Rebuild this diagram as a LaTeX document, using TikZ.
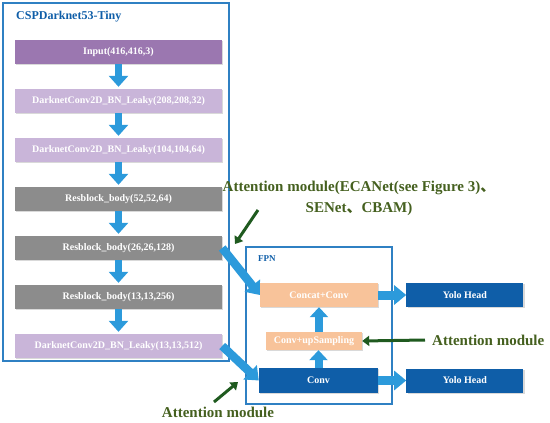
\documentclass[tikz,border=0pt]{standalone}
\usepackage{fontspec}
\setmainfont{Liberation Serif}
\newfontfamily\cjk{Noto Sans CJK SC}
\usepackage{xcolor}
\usepackage{tikz}
\usetikzlibrary{positioning,arrows.meta,shadows}
\definecolor{frameblue}{HTML}{2F80C3}
\definecolor{flow}{HTML}{2C9ADB}
\definecolor{deep}{HTML}{0F5EA8}
\definecolor{inpurple}{HTML}{9B77B0}
\definecolor{lilac}{HTML}{C9B5D9}
\definecolor{resgray}{HTML}{8C8C8C}
\definecolor{peach}{HTML}{F8C39A}
\definecolor{attn}{HTML}{1F5A1F}
\definecolor{attntext}{HTML}{45601F}

\begin{document}
\begin{tikzpicture}[
    x=1pt, y=1pt,
    node distance=24.6pt,
    layer/.style={minimum width=207pt, minimum height=24pt, inner sep=1pt, text=white, font=\fontsize{10}{12}\selectfont\bfseries, drop shadow={shadow xshift=1.2pt, shadow yshift=-1.2pt, opacity=0.3}},
    fpnbox/.style={layer, minimum width=118pt},
    frame/.style={draw=frameblue, line width=1.4pt},
    down/.style={line width=7pt, draw=flow, -{Triangle[length=11pt,width=19pt]}, shorten >=2pt},
    side/.style={line width=9pt, draw=flow, -{Triangle[length=12pt,width=19pt]}},
    garr/.style={line width=3pt, draw=attn, -{Triangle[length=7pt,width=10pt]}},
    attlabel/.style={text=attntext, font=\fontsize{15}{21}\selectfont\bfseries, align=center, inner sep=0pt}
]
    \useasboundingbox (0,0) rectangle (550,-423);

    % Backbone
    \draw[frame] (3,-3) rectangle (229,-361);
    \node[anchor=west, text=deep, font=\fontsize{12}{14}\selectfont\bfseries, inner sep=0pt] (bbtitle) at (16,-17) {CSPDarknet53-Tiny};
    \node[layer, fill=inpurple] (in) at (118.5,-52) {Input(416,416,3)};
    \node[layer, fill=lilac, below=of in] (dc208) {DarknetConv2D\_BN\_Leaky(208,208,32)};
    \node[layer, fill=lilac, below=of dc208] (dc104) {DarknetConv2D\_BN\_Leaky(104,104,64)};
    \node[layer, fill=resgray, below=of dc104] (rb52) {Resblock\_body(52,52,64)};
    \node[layer, fill=resgray, below=of rb52] (rb26) {Resblock\_body(26,26,128)};
    \node[layer, fill=resgray, below=of rb26] (rb13) {Resblock\_body(13,13,256)};
    \node[layer, fill=lilac, below=of rb13] (dc13) {DarknetConv2D\_BN\_Leaky(13,13,512)};

    \draw[down] (in) -- (dc208);
    \draw[down] (dc208) -- (dc104);
    \draw[down] (dc104) -- (rb52);
    \draw[down] (rb52) -- (rb26);
    \draw[down] (rb26) -- (rb13);
    \draw[down] (rb13) -- (dc13);

    % FPN
    \draw[frame, line width=1.2pt] (246,-247) rectangle (392,-404);
    \node[anchor=west, text=deep, font=\fontsize{9}{11}\selectfont\bfseries, inner sep=0pt] (fpntitle) at (258,-259) {FPN};
    \node[fpnbox, fill=peach] (concat) at (319,-295) {Concat+Conv};
    \node[fpnbox, fill=peach, minimum width=96pt, minimum height=18pt] (upsamp) at (314,-341) {Conv+upSampling};
    \node[fpnbox, fill=deep, minimum width=119pt, minimum height=25pt] (conv) at (318.5,-380.5) {Conv};
    \node[fpnbox, fill=deep, minimum width=117pt, right=28pt of concat] (yolo1) {Yolo Head};
    \node[fpnbox, fill=deep, minimum width=117pt, right=28pt of conv] (yolo2) {Yolo Head};

    \draw[down, shorten >=0pt, line width=8pt, -{Triangle[length=10pt,width=18pt]}] (conv) -- (conv |- upsamp.south);
    \draw[down, shorten >=0pt, line width=8pt, -{Triangle[length=10pt,width=18pt]}] (upsamp.north -| concat) -- (concat);
    \draw[side] (concat) -- (yolo1);
    \draw[side] (conv) -- (yolo2);

    % Backbone to FPN
    \draw[side, line width=8.5pt, -{Triangle[length=12pt,width=19pt]}] (rb26.east) -- (concat.west);
    \draw[side, line width=8.5pt, -{Triangle[length=12pt,width=19pt]}] (dc13.east) -- (conv.west);

    % Attention modules
    \node[attlabel] (atttop) at (359,-198.5) {Attention module(ECANet(see Figure 3){\cjk 、}\\SENet{\cjk 、}CBAM)};
    \node[attlabel, anchor=west] (attright) at (432,-340) {Attention module};
    \node[attlabel] (attbottom) at (218,-412) {Attention module};
    \coordinate (g1a) at (258,-210);
    \coordinate (g1b) at (235,-244);
    \coordinate (g2a) at (214,-402);
    \coordinate (g2b) at (238,-382);
    \coordinate (g3a) at (425,-340);
    \draw[garr] (g1a) -- (g1b);
    \draw[garr] (g2a) -- (g2b);
    \draw[garr] (g3a) -- (upsamp.east);
\end{tikzpicture}
\end{document}
